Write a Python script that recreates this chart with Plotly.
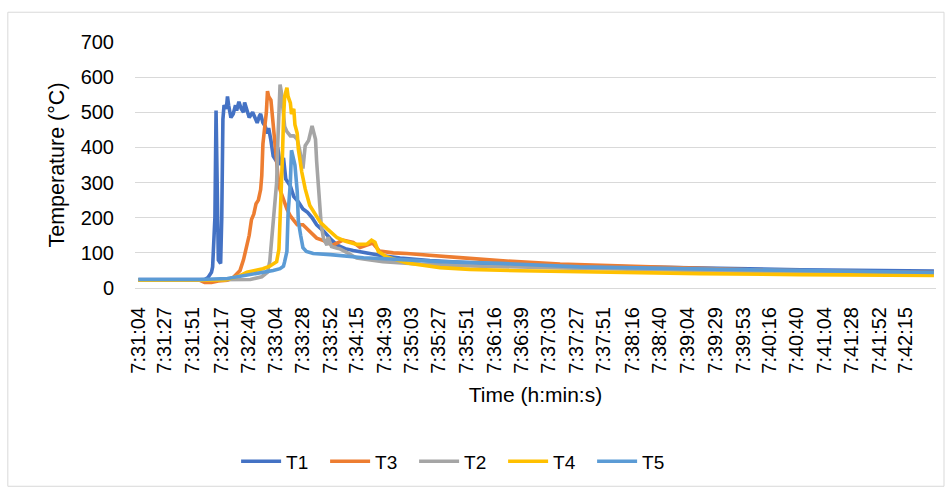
import pandas as pd
import plotly.graph_objects as go

# Thermocouple readings (°C) against clock time, one list pair per sensor
DAY = "2021-01-01 "

tick_labels = [
    "7:31:04", "7:31:27", "7:31:51", "7:32:17", "7:32:40", "7:33:04", "7:33:28",
    "7:33:52", "7:34:15", "7:34:39", "7:35:03", "7:35:27", "7:35:51", "7:36:16",
    "7:36:39", "7:37:03", "7:37:27", "7:37:51", "7:38:16", "7:38:40", "7:39:04",
    "7:39:29", "7:39:53", "7:40:16", "7:40:40", "7:41:04", "7:41:28", "7:41:52",
    "7:42:15",
]

t1_time = [
    "7:31:04", "7:32:02", "7:32:05", "7:32:08", "7:32:09", "7:32:11", "7:32:12",
    "7:32:13", "7:32:14", "7:32:16", "7:32:17", "7:32:18", "7:32:19", "7:32:21",
    "7:32:22", "7:32:23", "7:32:25", "7:32:27", "7:32:29", "7:32:30", "7:32:32",
    "7:32:34", "7:32:36", "7:32:37", "7:32:39", "7:32:41", "7:32:43", "7:32:44",
    "7:32:46", "7:32:48", "7:32:50", "7:32:51", "7:32:53", "7:32:55", "7:32:57",
    "7:32:58", "7:33:00", "7:33:02", "7:33:05", "7:33:06", "7:33:08", "7:33:11",
    "7:33:13", "7:33:17", "7:33:20", "7:33:24", "7:33:28", "7:33:32", "7:33:36",
    "7:33:40", "7:33:46", "7:33:52", "7:33:58", "7:34:05", "7:34:12", "7:34:22",
    "7:34:35", "7:34:53", "7:35:19", "7:35:54", "7:36:38", "7:37:48", "7:39:15",
    "7:40:43", "7:42:40",
]
t1_temp = [
    24, 24, 30, 45, 60, 200, 505,
    300, 80, 70, 200, 480, 520, 510,
    545, 520, 485, 495, 520, 505, 530,
    510, 500, 528, 505, 485, 495, 500,
    485, 470, 490, 495, 470, 460, 440,
    455, 420, 375, 360, 400, 350, 370,
    310, 290, 260, 245, 225, 215, 200,
    180, 162, 140, 122, 112, 107, 100,
    93, 85, 78, 72, 67, 62, 57,
    52, 48,
]

t3_time = [
    "7:31:04", "7:31:58", "7:32:02", "7:32:08", "7:32:14", "7:32:22", "7:32:27",
    "7:32:30", "7:32:33", "7:32:36", "7:32:39", "7:32:41", "7:32:43", "7:32:45",
    "7:32:47", "7:32:49", "7:32:51", "7:32:52", "7:32:53", "7:32:55", "7:32:56",
    "7:32:57", "7:32:58", "7:33:00", "7:33:02", "7:33:04", "7:33:07", "7:33:09",
    "7:33:11", "7:33:14", "7:33:17", "7:33:23", "7:33:28", "7:33:34", "7:33:40",
    "7:33:46", "7:33:54", "7:34:03", "7:34:12", "7:34:18", "7:34:24", "7:34:29",
    "7:34:35", "7:34:47", "7:34:59", "7:35:13", "7:35:28", "7:35:51", "7:36:20",
    "7:37:13", "7:38:32", "7:39:59", "7:41:27", "7:42:40",
]
t3_temp = [
    22, 22, 16, 16, 20, 22, 30,
    40, 50, 80, 120, 150, 195, 210,
    240, 250, 280, 320, 410, 470, 500,
    560, 545, 535, 460, 385, 290, 270,
    250, 225, 205, 180, 180, 160, 142,
    135, 122, 136, 130, 115, 122, 128,
    105, 100, 98, 94, 90, 85, 78,
    68, 60, 52, 47, 44,
]

t2_time = [
    "7:31:04", "7:32:42", "7:32:52", "7:32:57", "7:32:59", "7:33:01", "7:33:03",
    "7:33:05", "7:33:06", "7:33:08", "7:33:09", "7:33:10", "7:33:12", "7:33:14",
    "7:33:17", "7:33:20", "7:33:23", "7:33:25", "7:33:28", "7:33:30", "7:33:33",
    "7:33:36", "7:33:37", "7:33:39", "7:33:40", "7:33:42", "7:33:44", "7:33:46",
    "7:33:49", "7:33:50", "7:33:53", "7:33:58", "7:34:00", "7:34:07", "7:34:15",
    "7:34:27", "7:34:38", "7:35:11", "7:36:03", "7:37:13", "7:38:32", "7:39:59",
    "7:41:27", "7:42:40",
]
t2_temp = [
    22, 24, 32, 45, 76, 150, 250,
    300, 414, 579, 560, 520, 460, 445,
    433, 433, 423, 395, 340, 405, 420,
    461, 445, 423, 360, 254, 179, 141,
    122, 145, 118, 113, 112, 100, 85,
    80, 75, 68, 62, 57, 52, 47,
    44, 41,
]

t4_time = [
    "7:31:04", "7:32:20", "7:32:33", "7:32:39", "7:32:46", "7:32:53", "7:32:59",
    "7:33:05", "7:33:07", "7:33:08", "7:33:10", "7:33:11", "7:33:12", "7:33:14",
    "7:33:15", "7:33:17", "7:33:18", "7:33:20", "7:33:21", "7:33:23", "7:33:24",
    "7:33:27", "7:33:30", "7:33:34", "7:33:39", "7:33:43", "7:33:49", "7:33:58",
    "7:34:06", "7:34:15", "7:34:24", "7:34:28", "7:34:31", "7:34:34", "7:34:41",
    "7:34:49", "7:34:59", "7:35:28", "7:35:54", "7:36:38", "7:37:48", "7:39:15",
    "7:40:43", "7:42:40",
]
t4_temp = [
    22, 23, 35, 45, 50, 55, 62,
    75, 110, 180, 367, 480, 545, 570,
    545, 527, 495, 510, 465, 440, 395,
    330, 282, 235, 207, 188, 169, 143,
    132, 124, 125, 136, 130, 104, 89,
    80, 71, 58, 53, 49, 45, 41,
    38, 36,
]

t5_time = [
    "7:31:04", "7:31:58", "7:32:22", "7:32:39", "7:32:52", "7:33:02", "7:33:08",
    "7:33:11", "7:33:12", "7:33:14", "7:33:15", "7:33:17", "7:33:18", "7:33:20",
    "7:33:21", "7:33:23", "7:33:24", "7:33:26", "7:33:27", "7:33:28", "7:33:31",
    "7:33:37", "7:33:52", "7:34:06", "7:34:21", "7:34:35", "7:35:02", "7:35:28",
    "7:36:20", "7:37:30", "7:38:58", "7:40:25", "7:41:35", "7:42:40",
]
t5_temp = [
    24, 24, 27, 36, 44, 50, 55,
    62, 75, 104, 210, 300, 392, 370,
    350, 275, 190, 150, 125, 115, 104,
    98, 95, 90, 86, 84, 79, 75,
    70, 60, 55, 50, 47, 44,
]

series = [
    ("T1", t1_time, t1_temp, "#4472C4"),
    ("T3", t3_time, t3_temp, "#ED7D31"),
    ("T2", t2_time, t2_temp, "#A5A5A5"),
    ("T4", t4_time, t4_temp, "#FFC000"),
    ("T5", t5_time, t5_temp, "#5B9BD5"),
]


def as_datetime(times):
    return pd.to_datetime([DAY + t for t in times])


FONT = "Liberation Sans, Arial, sans-serif"
GRID = "#D9D9D9"

fig = go.Figure()
for name, times, temps, color in series:
    fig.add_trace(go.Scatter(
        x=as_datetime(times), y=temps, name=name, mode="lines",
        line=dict(color=color, width=3.6),
    ))

fig.update_layout(
    width=951, height=493,
    margin=dict(l=135, r=15, t=42, b=203),
    paper_bgcolor="white", plot_bgcolor="white",
    font=dict(family=FONT, size=20, color="#000000"),
    showlegend=True,
    legend=dict(
        orientation="h", x=0.404, xanchor="center", y=-0.705, yanchor="middle",
        font=dict(family=FONT, size=19, color="#000000"),
        entrywidth=34, entrywidthmode="pixels", itemwidth=40,
        bgcolor="rgba(0,0,0,0)",
    ),
    shapes=[dict(
        type="rect", xref="paper", yref="paper",
        x0=-0.15875, x1=1.01, y0=-0.806, y1=1.121,
        line=dict(color="#D9D9D9", width=1), fillcolor="rgba(0,0,0,0)", layer="below",
    )],
)

fig.update_xaxes(
    type="date",
    range=[DAY + "07:31:01.1", DAY + "07:42:41.8"],
    tickvals=as_datetime(tick_labels), ticktext=tick_labels,
    tickangle=-90, ticks="", showgrid=False, zeroline=False, showline=False,
    ticklabelstandoff=14,
    tickfont=dict(family=FONT, size=20),
    title=dict(text="Time (h:min:s)", font=dict(family=FONT, size=21), standoff=14),
)

fig.update_yaxes(
    range=[0, 700], tick0=0, dtick=100,
    showgrid=True, gridcolor=GRID, gridwidth=1,
    zeroline=True, zerolinecolor=GRID, zerolinewidth=1,
    showline=False, ticks="", ticklabelstandoff=20,
    tickfont=dict(family=FONT, size=20),
    title=dict(text="Temperature (°C)", font=dict(family=FONT, size=21.5), standoff=10),
)

fig.write_html("out.html")
